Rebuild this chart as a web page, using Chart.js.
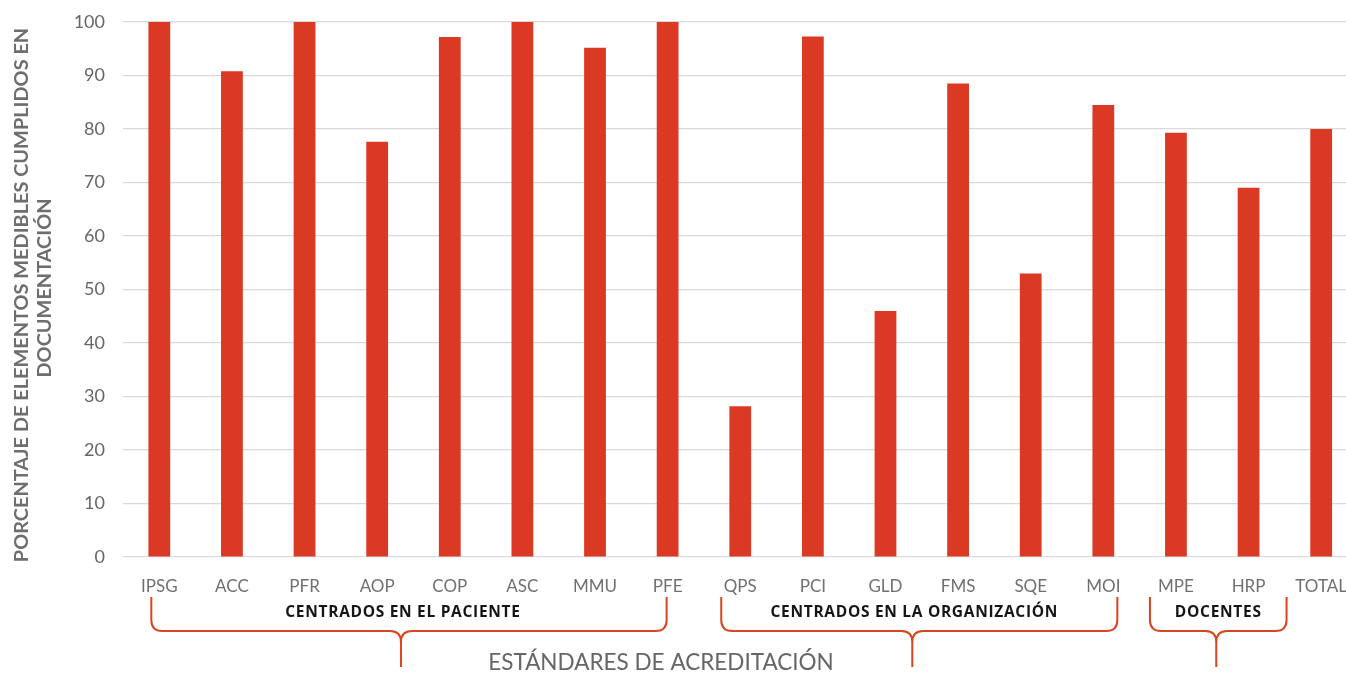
<!DOCTYPE html>
<html lang="es">
  <head>
    <meta charset="UTF-8" />
    <script src="https://cdn.jsdelivr.net/npm/chart.js@4.4.1/dist/chart.umd.min.js"></script>
    <title>Estándares de acreditación</title>
    <style>
      html, body { margin: 0; padding: 0; background: #fff; overflow: hidden; }
      #wrap { width: 1358px; height: 675px; }
    </style>
  </head>
  <body>
    <div id="wrap"><canvas id="myChart"></canvas></div>

    <script>
      // data
      const standards = ["IPSG", "ACC", "PFR", "AOP", "COP", "ASC", "MMU", "PFE",
                         "QPS", "PCI", "GLD", "FMS", "SQE", "MOI", "MPE", "HRP", "TOTAL"];
      const percent = [100, 90.8, 100, 77.6, 97.2, 100, 95.2, 100,
                       28.2, 97.3, 46, 88.5, 53, 84.5, 79.3, 69, 80];
      const yTicks = [0, 10, 20, 30, 40, 50, 60, 70, 80, 90, 100];
      const groupNames = ["CENTRADOS EN EL PACIENTE", "CENTRADOS EN LA ORGANIZACIÓN", "DOCENTES"];
      const groupFirst = [0, 8, 14];
      const groupLast = [7, 13, 15];

      const yTitle = ["PORCENTAJE DE ELEMENTOS MEDIBLES CUMPLIDOS EN", "DOCUMENTACIÓN"];
      const xTitle = "ESTÁNDARES DE ACREDITACIÓN";

      // hand drawn braces are a bit uneven: [left, right, tip] nudges in px
      const braceNudge = [[-8, -1, -8], [-19, 14, -7], [-26, 38, -2]];

      const braces = {
        id: "braces",
        afterDraw(chart) {
          const ctx = chart.ctx;
          const x = chart.scales.x;
          ctx.save();

          // group braces
          ctx.strokeStyle = "#d8461f";
          ctx.lineWidth = 2;
          ctx.lineJoin = "round";
          const top = 597, mid = 631, tip = 667, r = 11;
          groupNames.forEach((name, i) => {
            const x1 = x.getPixelForValue(groupFirst[i]) + braceNudge[i][0];
            const x2 = x.getPixelForValue(groupLast[i]) + braceNudge[i][1];
            const m = (x1 + x2) / 2 + braceNudge[i][2];
            ctx.beginPath();
            ctx.moveTo(x1, top);
            ctx.lineTo(x1, mid - r);
            ctx.quadraticCurveTo(x1, mid, x1 + r, mid);
            ctx.lineTo(m - r, mid);
            ctx.quadraticCurveTo(m, mid, m, mid + r);
            ctx.lineTo(m, tip);
            ctx.moveTo(m, mid + r);
            ctx.quadraticCurveTo(m, mid, m + r, mid);
            ctx.lineTo(x2 - r, mid);
            ctx.quadraticCurveTo(x2, mid, x2, mid - r);
            ctx.lineTo(x2, top);
            ctx.stroke();

            ctx.fillStyle = "#151515";
            ctx.font = "bold 15.5px 'Open Sans'";
            ctx.letterSpacing = "0.7px";
            ctx.textAlign = "center";
            ctx.textBaseline = "middle";
            ctx.fillText(name, m + 2, 613);
            ctx.letterSpacing = "0px";
          });

          // x title
          ctx.fillStyle = "#666";
          ctx.font = "22.5px Lato";
          ctx.textAlign = "center";
          ctx.textBaseline = "middle";
          ctx.fillText(xTitle, 661, 663);

          // y title, rotated, two lines; size fitted so line one spans the axis
          ctx.font = "bold 18px Lato";
          const size = 18 * 535 / ctx.measureText(yTitle[0]).width;
          ctx.font = "bold " + size.toFixed(1) + "px Lato";
          ctx.fillStyle = "#6e6e6e";
          ctx.translate(0, 295);
          ctx.rotate(-Math.PI / 2);
          ctx.fillText(yTitle[0], 0, 22);
          ctx.fillText(yTitle[1], 7, 45);
          ctx.restore();
        }
      };

      var ctx = document.getElementById("myChart").getContext("2d");
      var chart = new Chart(ctx, {
        type: "bar",
        data: {
          labels: standards,
          datasets: [{
            data: percent,
            backgroundColor: "#da3a24",
            barPercentage: 0.3,
            categoryPercentage: 1
          }]
        },
        options: {
          responsive: true,
          maintainAspectRatio: false,
          animation: false,
          layout: { padding: { top: 22, left: 0, right: 0, bottom: 0 } },
          plugins: { legend: { display: false }, tooltip: { enabled: false } },
          scales: {
            x: {
              grid: { display: false },
              border: { display: false },
              ticks: { color: "#707070", font: { family: "Lato", size: 17 }, padding: 11, maxRotation: 0, autoSkip: false },
              afterFit(s) { s.height = 118; }
            },
            y: {
              min: 0,
              max: 100,
              afterBuildTicks(s) { s.ticks = yTicks.map(v => ({ value: v })); },
              grid: { color: "#d9d9d9", lineWidth: 1.2, drawTicks: false },
              border: { display: false },
              ticks: { color: "#666", font: { family: "Lato", size: 18 }, padding: 18 },
              afterFit(s) { s.width = 123; s.paddingTop = 0; s.paddingBottom = 0; }
            }
          }
        },
        plugins: [braces]
      });
    </script>
  </body>
</html>
